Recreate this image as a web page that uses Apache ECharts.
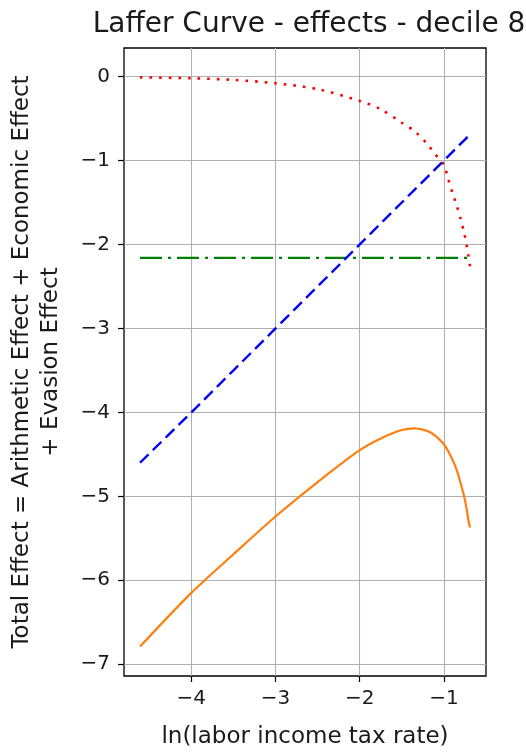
<!DOCTYPE html>
<html>
<head>
<meta charset="utf-8">
<script src="https://cdn.jsdelivr.net/npm/echarts@6/dist/echarts.min.js"></script>
<style>
html,body{margin:0;padding:0;background:#fff;}
#chart{width:526px;height:754px;}
</style>
</head>
<body>
<div id="chart"></div>
<script>
// ln(labor income tax rate) sample points
const lnRate = [-4.61, -4.0, -3.5, -3.0, -2.5, -2.0, -1.75, -1.5, -1.35, -1.2, -1.1, -1.0, -0.95, -0.9, -0.85, -0.8, -0.76, -0.73, -0.71, -0.69];
// Arithmetic effect (blue dashed)
const arithmeticEffect = [-4.60, -4.0, -3.5, -3.0, -2.5, -2.0, -1.75, -1.5, -1.35, -1.2, -1.1, -1.0, -0.95, -0.9, -0.85, -0.8, -0.76, -0.73, -0.71, -0.70];
// Economic effect (green dash-dot)
const economicEffect = [-2.16, -2.16, -2.16, -2.16, -2.16, -2.16, -2.16, -2.16, -2.16, -2.16, -2.16, -2.16, -2.16, -2.16, -2.16, -2.16, -2.16, -2.16, -2.16, -2.16];
// Evasion effect (red dotted)
const evasionEffect = [-0.01, -0.02, -0.04, -0.08, -0.15, -0.29, -0.39, -0.55, -0.65, -0.80, -0.93, -1.05, -1.22, -1.38, -1.53, -1.70, -1.86, -2.01, -2.13, -2.26];
// Total effect (orange solid)
const totalEffect = [-6.79, -6.15, -5.69, -5.24, -4.83, -4.45, -4.31, -4.21, -4.19, -4.22, -4.28, -4.38, -4.46, -4.56, -4.68, -4.85, -5.00, -5.15, -5.28, -5.37];

const xTicks = [-4, -3, -2, -1];
const yTicks = [0, -1, -2, -3, -4, -5, -6, -7];

const fmt = v => (v < 0 ? '\u2212' + Math.abs(v) : String(v));
const pairs = ys => lnRate.map((x, i) => [x, ys[i]]);

const FONT = 'DejaVu Sans';
const chart = echarts.init(document.getElementById('chart'), null, {renderer: 'canvas'});
chart.setOption({
  animation: false,
  backgroundColor: '#ffffff',
  title: {
    text: 'Laffer Curve - effects - decile 8',
    left: 304, top: 6, textAlign: 'center',
    textStyle: {fontFamily: FONT, fontSize: 28, fontWeight: 'normal', color: '#1a1a1a'}
  },
  grid: {
    left: 124, right: 40, top: 48, bottom: 78,
    show: true, borderColor: '#000', borderWidth: 1.3, backgroundColor: 'transparent'
  },
  xAxis: {
    type: 'value', min: -4.8, max: -0.5,
    name: 'ln(labor income tax rate)', nameLocation: 'middle', nameGap: 50,
    nameTextStyle: {fontFamily: FONT, fontSize: 23, color: '#1a1a1a'},
    axisLine: {show: false, onZero: false},
    axisTick: {show: true, length: 6, customValues: xTicks, lineStyle: {color: '#000', width: 1.2}},
    axisLabel: {customValues: xTicks, formatter: fmt, margin: 13, fontFamily: FONT, fontSize: 20, color: '#1a1a1a'},
    splitLine: {show: true, lineStyle: {color: '#b0b0b0', width: 1.1}}
  },
  yAxis: {
    type: 'value', min: -7.14, max: 0.34,
    name: 'Total Effect = Arithmetic Effect + Economic Effect\n+ Evasion Effect',
    nameLocation: 'middle', nameRotate: 90, nameGap: 58,
    nameTextStyle: {fontFamily: FONT, fontSize: 23, color: '#1a1a1a', align: 'center', lineHeight: 29},
    axisLine: {show: false, onZero: false},
    axisTick: {show: true, length: 6, customValues: yTicks, lineStyle: {color: '#000', width: 1.2}},
    axisLabel: {customValues: yTicks, formatter: fmt, margin: 14, fontFamily: FONT, fontSize: 20, color: '#1a1a1a'},
    splitLine: {show: true, lineStyle: {color: '#b0b0b0', width: 1.1}}
  },
  series: [
    {type: 'line', data: pairs(evasionEffect), showSymbol: false, smooth: 0.3, z: 3,
     lineStyle: {color: '#ff0000', width: 2.6, type: [2.6, 7], cap: 'butt'}},
    {type: 'line', data: pairs(arithmeticEffect), showSymbol: false, z: 4,
     lineStyle: {color: '#0000ff', width: 2.4, type: [12, 6]}},
    {type: 'line', data: pairs(economicEffect), showSymbol: false, z: 2,
     lineStyle: {color: '#008000', width: 2.4, type: [22, 6, 3, 6]}},
    {type: 'line', data: pairs(totalEffect), showSymbol: false, smooth: 0.3, z: 2,
     lineStyle: {color: '#ff7f0e', width: 2.2, type: 'solid'}}
  ]
});
</script>
</body>
</html>
